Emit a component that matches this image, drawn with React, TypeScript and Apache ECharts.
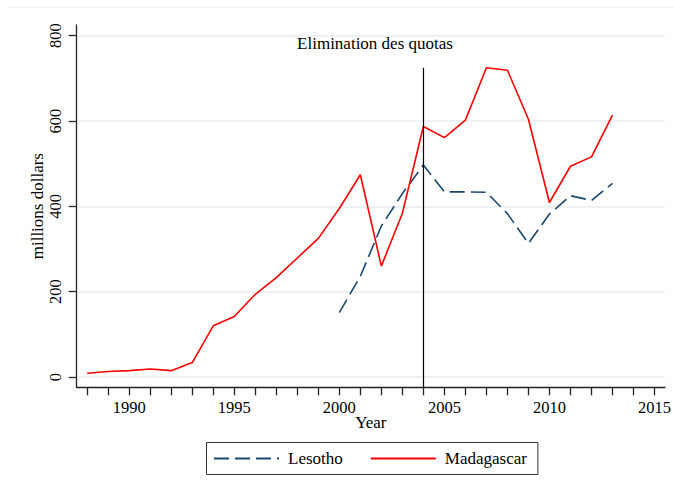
import React, { useEffect, useRef } from "react";
import * as echarts from "echarts";

const years = [1988, 1989, 1990, 1991, 1992, 1993, 1994, 1995, 1996, 1997, 1998, 1999, 2000, 2001, 2002, 2003, 2004, 2005, 2006, 2007, 2008, 2009, 2010, 2011, 2012, 2013];
const madagascar = [9, 13, 15, 19, 15, 34, 120, 142, 194, 233, 279, 325, 395, 474, 260, 384, 587, 561, 602, 725, 719, 604, 409, 494, 516, 614];
const lesothoYears = [2000, 2001, 2002, 2003, 2004, 2005, 2006, 2007, 2008, 2009, 2010, 2011, 2012, 2013];
const lesotho = [151, 236, 354, 430, 497, 434, 434, 433, 383, 313, 382, 425, 414, 454];
const xTicks = [1988, 1989, 1990, 1991, 1992, 1993, 1994, 1995, 1996, 1997, 1998, 1999, 2000, 2001, 2002, 2003, 2004, 2005, 2006, 2007, 2008, 2009, 2010, 2011, 2012, 2013, 2014, 2015];
const xLabels = [1990, 1995, 2000, 2005, 2010, 2015];
const yTicks = [0, 200, 400, 600, 800];
const quotaYear = 2004;
const quotaTop = 725;
const annotation = "Elimination des quotas";

const FONT = "'Liberation Serif', 'Times New Roman', Times, serif";

export default function App() {
  const ref = useRef<HTMLDivElement>(null);
  useEffect(() => {
    if (!ref.current) return;
    const chart = echarts.init(ref.current, undefined, { renderer: "svg" });
    chart.setOption({
      animation: false,
      backgroundColor: "#ffffff",
      textStyle: { fontFamily: FONT },
      grid: { left: 76.7, right: 6, top: 25, bottom: 101.7, containLabel: false },
      xAxis: {
        type: "value",
        min: 1987.5,
        max: 2015.5,
        name: "Year",
        nameLocation: "middle",
        nameGap: 27,
        nameMoveOverlap: false,
        nameTextStyle: { fontFamily: FONT, fontSize: 17, color: "#000" },
        axisLine: { onZero: false, lineStyle: { color: "#222", width: 1.3 } },
        axisTick: { customValues: xTicks, length: 8, lineStyle: { color: "#222", width: 1.3 } },
        axisLabel: { customValues: xLabels, margin: 12, fontFamily: FONT, fontSize: 16.5, color: "#000", formatter: (v: number) => String(v) },
        splitLine: { show: false },
      },
      yAxis: {
        type: "value",
        min: -24,
        max: 825,
        name: "millions dollars",
        nameLocation: "middle",
        nameGap: 31,
        nameMoveOverlap: false,
        nameRotate: 90,
        nameTextStyle: { fontFamily: FONT, fontSize: 17, color: "#000" },
        axisLine: { show: true, lineStyle: { color: "#222", width: 1.3 } },
        axisTick: { show: true, customValues: yTicks, length: 8, lineStyle: { color: "#222", width: 1.3 } },
        axisLabel: { customValues: yTicks, rotate: 90, margin: 13, fontFamily: FONT, fontSize: 16.5, color: "#000", formatter: (v: number) => String(v) },
        splitLine: { show: true, lineStyle: { color: "#e6eef0", width: 1.5 } },
      },
      legend: {
        left: 206.5,
        top: 442.5,
        orient: "horizontal",
        itemWidth: 65,
        itemHeight: 14,
        itemGap: 27,
        padding: [7.5, 11, 7.5, 6.5],
        borderColor: "#333",
        borderWidth: 1,
        itemStyle: { opacity: 0 },
        textStyle: { fontFamily: FONT, fontSize: 17, color: "#000", padding: [0, 0, 0, 4] },
        data: ["Lesotho", "Madagascar"],
      },
      graphic: [
        { type: "line", shape: { x1: 8, y1: 7, x2: 674, y2: 7 }, style: { stroke: "#f0f0f0", lineWidth: 1 } },
        {
          type: "text",
          x: 375,
          y: 43,
          style: { text: annotation, fontFamily: FONT, fontSize: 17, fill: "#000", align: "center", verticalAlign: "middle" },
        },
      ],
      series: [
        {
          name: "Lesotho",
          type: "line",
          symbol: "none",
          data: lesothoYears.map((y, i) => [y, lesotho[i]]),
          lineStyle: { color: "#1a476f", width: 1.6, type: [15, 6] },
          itemStyle: { color: "#1a476f" },
        },
        {
          name: "Madagascar",
          type: "line",
          symbol: "none",
          data: years.map((y, i) => [y, madagascar[i]]),
          lineStyle: { color: "#ff0000", width: 1.6 },
          itemStyle: { color: "#ff0000" },
          markLine: {
            silent: true,
            symbol: "none",
            label: { show: false },
            lineStyle: { color: "#000", width: 1.2, type: "solid" },
            data: [[{ coord: [quotaYear, -24] }, { coord: [quotaYear, quotaTop] }]],
          },
        },
      ],
    });
    return () => chart.dispose();
  }, []);
  return <div ref={ref} style={{ position: "fixed", left: 0, top: 0, width: 674, height: 489 }} />;
}
